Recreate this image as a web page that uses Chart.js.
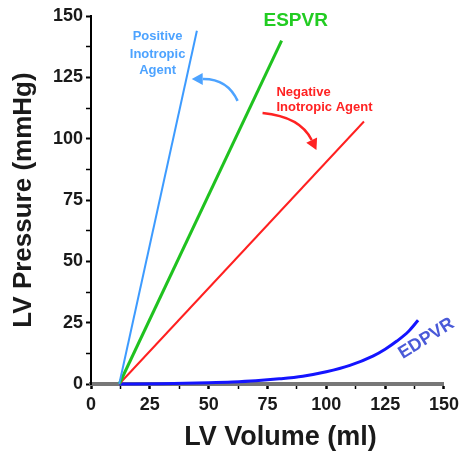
<!DOCTYPE html>
<html>
<head>
<meta charset="utf-8">
<script src="https://cdn.jsdelivr.net/npm/chart.js@4"></script>
<style>
html,body{margin:0;padding:0;background:#fff;}
#wrap{position:relative;width:464px;height:452px;}
</style>
</head>
<body>
<div id="wrap"><canvas id="c" width="464" height="452"></canvas></div>
<script>
// Data (LV volume in ml, LV pressure in mmHg)
const positiveVolume = [12, 45];
const positivePressure = [0, 144];
const espvrVolume = [12, 81];
const espvrPressure = [0, 140];
const negativeVolume = [12, 116];
const negativePressure = [0, 107];
const edpvrVolume = [12, 30, 50, 60, 70, 80, 90, 100, 110, 120, 125, 130, 135, 139];
const edpvrPressure = [0, 0.1, 0.5, 0.8, 1.3, 2.1, 3.2, 5.0, 7.6, 11.5, 14.2, 17.5, 21.5, 26];
const xTicks = [0, 25, 50, 75, 100, 125, 150];
const yTicks = [0, 25, 50, 75, 100, 125, 150];

function pts(xs, ys){ return xs.map((x,i)=>({x:x, y:ys[i]})); }

const FONT = "'Liberation Sans', Arial, sans-serif";
const TXT = '#1a1a1a';

const annotations = {
  id: 'annotations',
  afterDatasetsDraw(chart){
    const {ctx, scales:{x, y}} = chart;
    const px = v => x.getPixelForValue(v);
    const py = v => y.getPixelForValue(v);
    ctx.save();
    // X axis title
    ctx.fillStyle = TXT;
    ctx.font = 'bold 27px ' + FONT;
    ctx.textAlign = 'center';
    ctx.textBaseline = 'middle';
    ctx.fillText('LV Volume (ml)', px(80.5), 438);

    // Labels
    ctx.fillStyle = '#22cc22';
    ctx.font = 'bold 19px ' + FONT;
    ctx.fillText('ESPVR', px(87), py(148));

    ctx.fillStyle = '#4da3ff';
    ctx.font = 'bold 13px ' + FONT;
    ctx.fillText('Positive', px(28.3), py(141.5));
    ctx.fillText('Inotropic', px(28.3), py(134.5));
    ctx.fillText('Agent', px(28.3), py(128));

    ctx.fillStyle = '#ff2222';
    ctx.textAlign = 'left';
    ctx.fillText('Negative', px(78.8), py(119));
    ctx.fillText('Inotropic Agent', px(78.8), py(112.9));

    ctx.save();
    ctx.fillStyle = '#4a5ad8';
    ctx.font = 'bold 18px ' + FONT;
    ctx.textAlign = 'center';
    ctx.translate(px(142.5), py(18.5));
    ctx.rotate(-32 * Math.PI / 180);
    ctx.fillText('EDPVR', 0, 0);
    ctx.restore();

    // Arrows
    function arrow(x0,y0,cx,cy,x1,y1,color){
      const X0=px(x0),Y0=py(y0),CX=px(cx),CY=py(cy),X1=px(x1),Y1=py(y1);
      const ang = Math.atan2(Y1-CY, X1-CX);
      const hl = 11, hw = 6;
      const bx = X1 - hl*Math.cos(ang), by = Y1 - hl*Math.sin(ang);
      ctx.strokeStyle = color; ctx.fillStyle = color; ctx.lineWidth = 2.5;
      ctx.beginPath(); ctx.moveTo(X0,Y0); ctx.quadraticCurveTo(CX,CY,bx,by); ctx.stroke();
      ctx.beginPath();
      ctx.moveTo(X1,Y1);
      ctx.lineTo(bx + hw*Math.sin(ang), by - hw*Math.cos(ang));
      ctx.lineTo(bx - hw*Math.sin(ang), by + hw*Math.cos(ang));
      ctx.closePath(); ctx.fill();
    }
    arrow(62.3,115.4, 58,124.5, 42.8,124.3, '#4da3ff');
    arrow(72.9,110.5, 89,109, 95.8,95.4, '#ff2222');
    ctx.restore();
  }
};

const lineDs = (label, data, color, width) => ({
  label, data, borderColor: color, borderWidth: width, showLine: true,
  pointRadius: 0, fill: false, clip: false
});

new Chart(document.getElementById('c'), {
  type: 'scatter',
  data: {
    datasets: [
      lineDs('Positive Inotropic Agent', pts(positiveVolume, positivePressure), '#3d9bff', 2),
      lineDs('ESPVR', pts(espvrVolume, espvrPressure), '#1fc21f', 3),
      lineDs('Negative Inotropic Agent', pts(negativeVolume, negativePressure), '#ff2020', 2),
      Object.assign(lineDs('EDPVR', pts(edpvrVolume, edpvrPressure), '#1414ff', 3), {cubicInterpolationMode: 'monotone'})
    ]
  },
  options: {
    responsive: false,
    animation: false,
    layout: { padding: { top: 16, right: 19, left: 0, bottom: 0 } },
    plugins: { legend: { display: false }, tooltip: { enabled: false } },
    scales: {
      x: {
        type: 'linear', min: 0, max: 150,
        afterFit(s){ s.height = 68; },
        afterBuildTicks(s){ const t=[]; for(let v=0; v<=150; v+=12.5) t.push({value:v}); s.ticks = t; },
        border: { color: '#777', width: 4 },
        grid: { drawOnChartArea: false, tickLength: 5, tickColor: '#000',
                tickWidth: c => (c.tick && c.tick.value % 25 === 0) ? 2.5 : 1.5 },
        ticks: { autoSkip: false, maxRotation: 0, padding: 5, color: TXT,
                 font: { family: FONT, size: 18, weight: 'bold' },
                 callback: v => xTicks.includes(v) ? String(v) : '' },
        title: { display: false }
      },
      y: {
        type: 'linear', min: 0, max: 150,
        afterFit(s){ s.width = 91; },
        afterBuildTicks(s){ const t=[]; for(let v=0; v<=150; v+=12.5) t.push({value:v}); s.ticks = t; },
        border: { color: '#000', width: 2 },
        grid: { drawOnChartArea: false, tickLength: 5, tickColor: '#000',
                tickWidth: c => (c.tick && c.tick.value % 25 === 0) ? 2 : 1.5 },
        ticks: { autoSkip: false, padding: 3, color: TXT,
                 font: { family: FONT, size: 18, weight: 'bold' },
                 callback: v => yTicks.includes(v) ? String(v) : '' },
        title: { display: true, text: 'LV Pressure (mmHg)', color: TXT,
                 font: { family: FONT, size: 26, weight: 'bold', lineHeight: 1 },
                 padding: { top: 11, bottom: 0 } }
      }
    }
  },
  plugins: [annotations]
});
</script>
</body>
</html>
